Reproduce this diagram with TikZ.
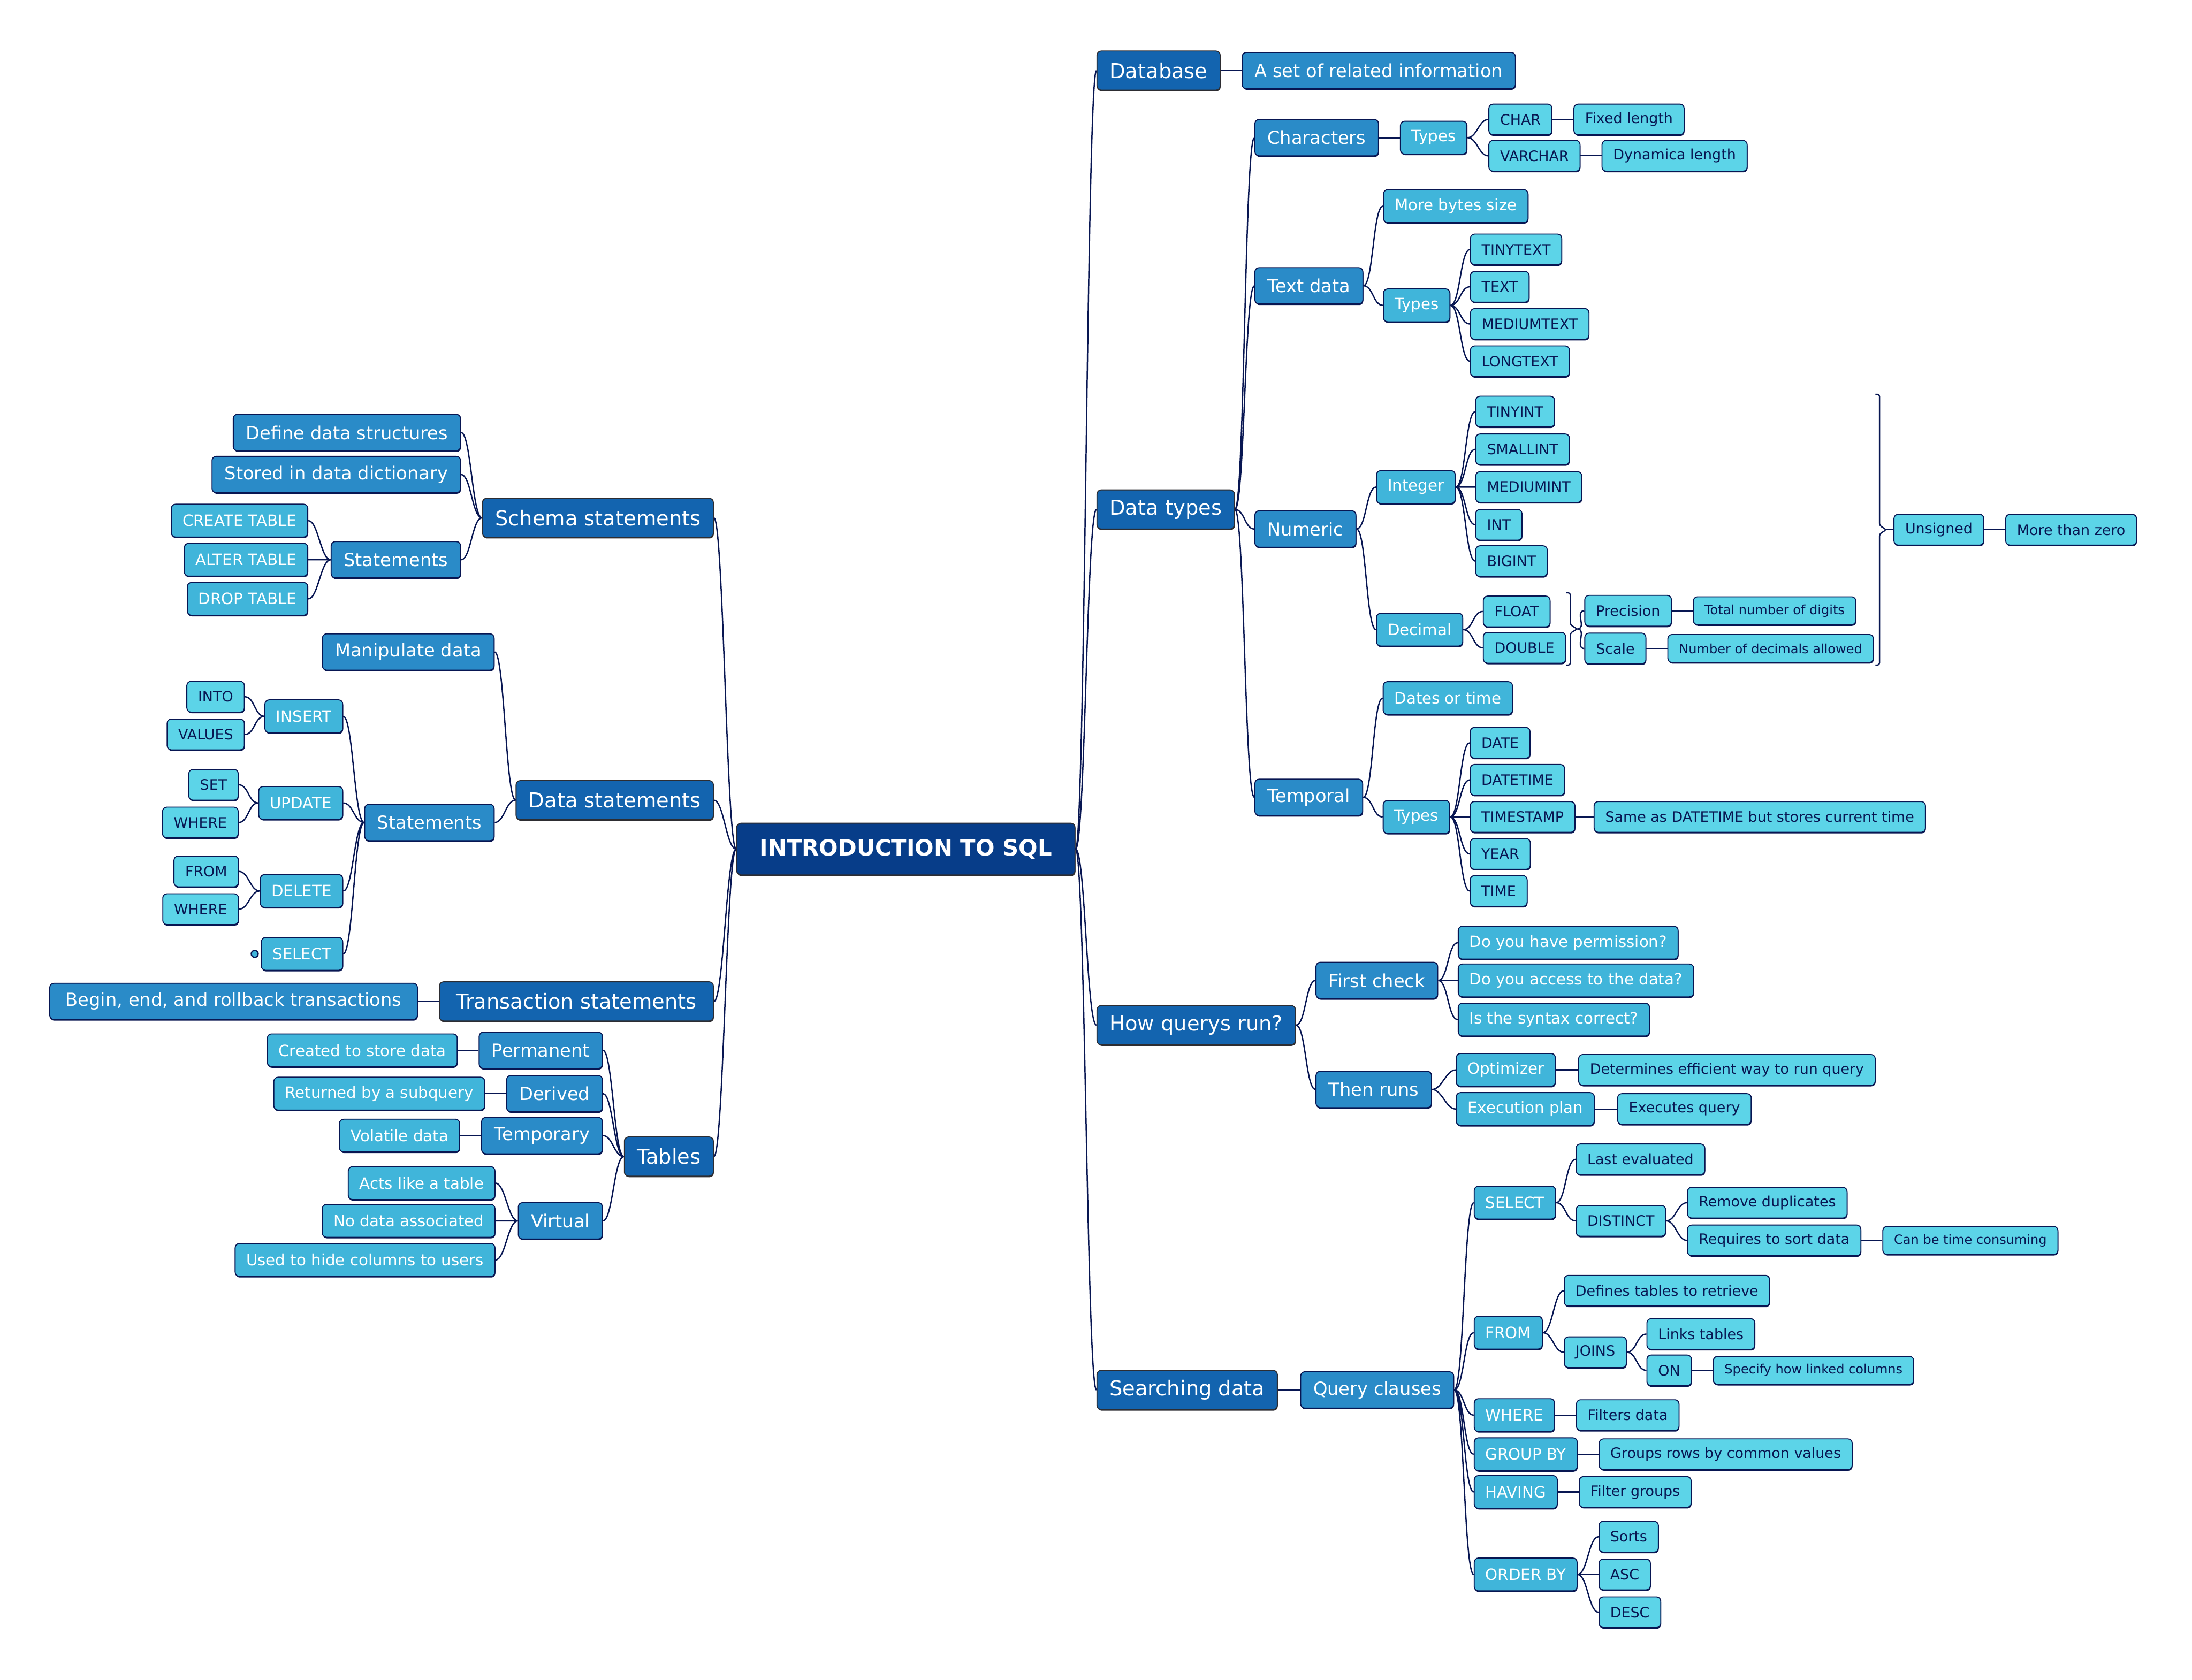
\documentclass[tikz,border=0pt]{standalone}
\usepackage{fontspec}
\setmainfont{DejaVu Sans}
\usetikzlibrary{positioning,calc,shadows}
\definecolor{sqlroot}{RGB}{7,61,137}
\definecolor{sqltopic}{RGB}{19,100,175}
\definecolor{sqlsub}{RGB}{42,139,200}
\definecolor{sqlitem}{RGB}{64,181,218}
\definecolor{sqlleaf}{RGB}{92,212,232}
\definecolor{sqlnavy}{RGB}{8,22,82}
\definecolor{sqledge}{RGB}{45,45,50}
\tikzset{
  boxbase/.style={line width=0.7pt, rounded corners=3pt,
    drop shadow={shadow xshift=0.3pt, shadow yshift=-0.8pt, fill=#1, opacity=1}},
  rootbox/.style={boxbase=sqledge, draw=sqledge, fill=sqlroot, text=white,
    font=\bfseries\fontsize{16}{19}\selectfont, minimum height=37pt, minimum width=242pt, inner xsep=9pt},
  topicbox/.style={boxbase=sqledge, draw=sqledge, fill=sqltopic, text=white,
    font=\fontsize{14.7}{17}\selectfont, minimum height=28pt, inner xsep=9pt},
  subbox/.style={boxbase=sqlnavy, draw=sqlnavy, fill=sqlsub, text=white,
    font=\fontsize{12.9}{15}\selectfont, minimum height=26pt, inner xsep=9pt},
  itembox/.style={boxbase=sqlnavy, draw=sqlnavy, fill=sqlitem, text=white,
    font=\fontsize{11.2}{13}\selectfont, minimum height=23.5pt, inner xsep=8pt},
  leafbox/.style={boxbase=sqlnavy, draw=sqlnavy, fill=sqlleaf, text=sqlnavy,
    font=\fontsize{10.3}{12}\selectfont, minimum height=22pt, inner xsep=8pt},
  notebox/.style={leafbox, font=\fontsize{9.2}{11}\selectfont, minimum height=20pt},
  branch/.style={draw=sqlnavy, line width=0.95pt},
  fanR/.style={branch, to path={.. controls +(7pt,0) and +(-7pt,0) .. (\tikztotarget)}},
  fanL/.style={branch, to path={.. controls +(-7pt,0) and +(7pt,0) .. (\tikztotarget)}},
  brk/.style={draw=sqlnavy, line width=0.9pt, rounded corners=1.5pt},
  dotmark/.style={circle, draw=sqlnavy, line width=0.9pt, fill=sqlitem, minimum size=5pt, inner sep=0pt}
}

\begin{document}
\begin{tikzpicture}[node distance=15pt]
\useasboundingbox (-648pt,607.5pt) rectangle (920pt,-594.5pt);
\node[rootbox] (sql) {INTRODUCTION TO SQL};

% right side
\node[topicbox, right=of sql, yshift=557pt] (db) {Database};
\node[topicbox, right=of sql, yshift=243pt] (dtypes) {Data types};
\node[topicbox, right=of sql, yshift=-126pt] (howrun) {How querys run?};
\node[topicbox, right=of sql, yshift=-387pt] (search) {Searching data};

\node[subbox, right=of db] (dbInfo) {A set of related information};

% data types
\node[subbox, right=14pt of dtypes, yshift=266pt] (chars) {Characters};
\node[subbox, right=14pt of dtypes, yshift=160pt] (textdata) {Text data};
\node[subbox, right=14pt of dtypes, yshift=-14pt] (numeric) {Numeric};
\node[subbox, right=14pt of dtypes, yshift=-206pt] (temporal) {Temporal};

\node[itembox, right=of chars] (charTypes) {Types};
\node[leafbox, right=of charTypes, yshift=13pt] (charC) {CHAR};
\node[leafbox, right=of charTypes, yshift=-13pt] (charV) {VARCHAR};
\node[leafbox, right=of charC] (charCfix) {Fixed length};
\node[leafbox, right=of charV] (charVdyn) {Dynamica length};

\node[itembox, right=14pt of textdata, yshift=57pt] (textMore) {More bytes size};
\node[itembox, right=14pt of textdata, yshift=-14pt] (textTypes) {Types};
\node[leafbox, right=14pt of textTypes, yshift=40pt] (tTiny) {TINYTEXT};
\node[leafbox, right=14pt of textTypes, yshift=13.3pt] (tText) {TEXT};
\node[leafbox, right=14pt of textTypes, yshift=-13.3pt] (tMed) {MEDIUMTEXT};
\node[leafbox, right=14pt of textTypes, yshift=-40pt] (tLong) {LONGTEXT};

\node[itembox, right=14pt of numeric, yshift=30pt] (integer) {Integer};
\node[itembox, right=14pt of numeric, yshift=-72pt] (decimal) {Decimal};
\node[leafbox, right=14pt of integer, yshift=54pt] (iTiny) {TINYINT};
\node[leafbox, right=14pt of integer, yshift=27pt] (iSmall) {SMALLINT};
\node[leafbox, right=14pt of integer] (iMed) {MEDIUMINT};
\node[leafbox, right=14pt of integer, yshift=-27pt] (iInt) {INT};
\node[leafbox, right=14pt of integer, yshift=-53pt] (iBig) {BIGINT};
\node[leafbox, right=14pt of decimal, yshift=13pt] (dFloat) {FLOAT};
\node[leafbox, right=14pt of decimal, yshift=-13pt] (dDouble) {DOUBLE};

% summary brackets
\coordinate (smTop) at ($(dFloat.north -| dDouble.east)+(3pt,2pt)$);
\coordinate (smBot) at ($(dDouble.south -| dDouble.east)+(3pt,-1pt)$);
\coordinate (smMid) at ($(smTop)!0.5!(smBot)$);
\coordinate (smTip) at ($(smMid)+(5pt,0)$);
\node[leafbox, right=5pt of smTip, yshift=13pt] (precision) {Precision};
\node[leafbox, right=5pt of smTip, yshift=-14pt] (scale) {Scale};
\node[notebox, right=of precision] (precDesc) {Total number of digits};
\node[notebox, right=of scale] (scaleDesc) {Number of decimals allowed};

\coordinate (bgTop) at ($(iTiny.north -| scaleDesc.east)+(4pt,1pt)$);
\coordinate (bgBot) at ($(dDouble.south -| scaleDesc.east)+(4pt,-1pt)$);
\coordinate (bgMid) at ($(bgTop)!0.5!(bgBot)$);
\coordinate (bgTip) at ($(bgMid)+(5pt,0)$);
\node[leafbox, right=5pt of bgTip] (unsigned) {Unsigned};
\node[leafbox, right=of unsigned] (unsignedDesc) {More than zero};

\node[itembox, right=14pt of temporal, yshift=71pt] (tmpDates) {Dates or time};
\node[itembox, right=14pt of temporal, yshift=-14pt] (tmpTypes) {Types};
\node[leafbox, right=14pt of tmpTypes, yshift=53pt] (tDate) {DATE};
\node[leafbox, right=14pt of tmpTypes, yshift=26.5pt] (tDatetime) {DATETIME};
\node[leafbox, right=14pt of tmpTypes] (tStamp) {TIMESTAMP};
\node[leafbox, right=14pt of tmpTypes, yshift=-26.5pt] (tYear) {YEAR};
\node[leafbox, right=14pt of tmpTypes, yshift=-53pt] (tTime) {TIME};
\node[leafbox, right=13pt of tStamp] (tStampDesc) {Same as DATETIME but stores current time};

% how querys run
\node[subbox, right=14pt of howrun, yshift=32pt] (firstcheck) {First check};
\node[subbox, right=14pt of howrun, yshift=-46pt] (thenruns) {Then runs};
\node[itembox, right=14pt of firstcheck, yshift=27pt] (chkPerm) {Do you have permission?};
\node[itembox, right=14pt of firstcheck] (chkAccess) {Do you access to the data?};
\node[itembox, right=14pt of firstcheck, yshift=-28pt] (chkSyntax) {Is the syntax correct?};
\node[itembox, right=17pt of thenruns, yshift=14pt] (optimizer) {Optimizer};
\node[itembox, right=17pt of thenruns, yshift=-14pt] (execplan) {Execution plan};
\node[leafbox, right=16pt of optimizer] (optDesc) {Determines efficient way to run query};
\node[leafbox, right=16pt of execplan] (execDesc) {Executes query};

% searching data
\node[subbox, right=16pt of search] (clauses) {Query clauses};
\node[itembox, right=14pt of clauses, yshift=134pt] (cSelect) {SELECT};
\node[itembox, right=14pt of clauses, yshift=41pt] (cFrom) {FROM};
\node[itembox, right=14pt of clauses, yshift=-18pt] (cWhere) {WHERE};
\node[itembox, right=14pt of clauses, yshift=-46pt] (cGroup) {GROUP BY};
\node[itembox, right=14pt of clauses, yshift=-73pt] (cHaving) {HAVING};
\node[itembox, right=14pt of clauses, yshift=-132pt] (cOrder) {ORDER BY};

\node[leafbox, right=14pt of cSelect, yshift=31pt] (selLast) {Last evaluated};
\node[leafbox, right=14pt of cSelect, yshift=-13pt] (selDistinct) {DISTINCT};
\node[leafbox, right=of selDistinct, yshift=13pt] (distRemove) {Remove duplicates};
\node[leafbox, right=of selDistinct, yshift=-14pt] (distSort) {Requires to sort data};
\node[notebox, right=of distSort] (distSortDesc) {Can be time consuming};

\node[leafbox, right=of cFrom, yshift=30pt] (fromDefines) {Defines tables to retrieve};
\node[leafbox, right=of cFrom, yshift=-14pt] (fromJoins) {JOINS};
\node[leafbox, right=14pt of fromJoins, yshift=13pt] (joinLinks) {Links tables};
\node[leafbox, right=14pt of fromJoins, yshift=-13pt] (joinOn) {ON};
\node[notebox, right=of joinOn] (joinOnDesc) {Specify how linked columns};

\node[leafbox, right=of cWhere] (whereDesc) {Filters data};
\node[leafbox, right=of cGroup] (groupDesc) {Groups rows by common values};
\node[leafbox, right=of cHaving] (havingDesc) {Filter groups};
\node[leafbox, right=of cOrder, yshift=27pt] (orderSorts) {Sorts};
\node[leafbox, right=of cOrder] (orderAsc) {ASC};
\node[leafbox, right=of cOrder, yshift=-27pt] (orderDesc) {DESC};

% left side
\node[topicbox, left=16pt of sql, yshift=237pt] (schema) {Schema statements};
\node[topicbox, left=16pt of sql, yshift=35pt] (datastmt) {Data statements};
\node[topicbox, left=16pt of sql, yshift=-109pt, minimum width=196pt] (trans) {Transaction statements};
\node[topicbox, left=16pt of sql, yshift=-220pt] (tables) {Tables};

\node[subbox, left=of schema, yshift=61pt] (schDefine) {Define data structures};
\node[subbox, left=of schema, yshift=31pt] (schStored) {Stored in data dictionary};
\node[subbox, left=of schema, yshift=-30pt] (schStmts) {Statements};
\node[itembox, left=16pt of schStmts, yshift=28pt] (sCreate) {CREATE TABLE};
\node[itembox, left=16pt of schStmts] (sAlter) {ALTER TABLE};
\node[itembox, left=16pt of schStmts, yshift=-28pt] (sDrop) {DROP TABLE};

\node[subbox, left=of datastmt, yshift=106pt] (dataManip) {Manipulate data};
\node[subbox, left=of datastmt, yshift=-16pt] (dataStmts) {Statements};
\node[itembox, left=of dataStmts, yshift=76pt] (dInsert) {INSERT};
\node[itembox, left=of dataStmts, yshift=14pt] (dUpdate) {UPDATE};
\node[itembox, left=of dataStmts, yshift=-49pt] (dDelete) {DELETE};
\node[itembox, left=of dataStmts, yshift=-94pt] (dSelect) {SELECT};
\node[leafbox, left=14pt of dInsert, yshift=14pt] (insInto) {INTO};
\node[leafbox, left=14pt of dInsert, yshift=-13pt] (insValues) {VALUES};
\node[leafbox, left=14pt of dUpdate, yshift=13pt] (updSet) {SET};
\node[leafbox, left=14pt of dUpdate, yshift=-14pt] (updWhere) {WHERE};
\node[leafbox, left=of dDelete, yshift=14pt] (delFrom) {FROM};
\node[leafbox, left=of dDelete, yshift=-13pt] (delWhere) {WHERE};
\node[dotmark, left=1.5pt of dSelect] (selDot) {};

\node[subbox, left=of trans, minimum width=263pt] (transDesc) {Begin, end, and rollback transactions};

\node[subbox, left=of tables, yshift=76pt] (tPerm) {Permanent};
\node[subbox, left=of tables, yshift=45pt] (tDerived) {Derived};
\node[subbox, left=of tables, yshift=15pt] (tTemp) {Temporary};
\node[subbox, left=of tables, yshift=-46pt] (tVirtual) {Virtual};
\node[itembox, left=of tPerm] (permDesc) {Created to store data};
\node[itembox, left=of tDerived] (derivedDesc) {Returned by a subquery};
\node[itembox, left=of tTemp] (tempDesc) {Volatile data};
\node[itembox, left=16pt of tVirtual, yshift=27pt] (virtActs) {Acts like a table};
\node[itembox, left=16pt of tVirtual] (virtNone) {No data associated};
\node[itembox, left=16pt of tVirtual, yshift=-28pt] (virtHide) {Used to hide columns to users};

% connectors, right
\draw[fanR] (sql.east) to (db.west) (sql.east) to (dtypes.west)
  (sql.east) to (howrun.west) (sql.east) to (search.west);
\draw[fanR] (db.east) to (dbInfo.west);
\draw[fanR] (dtypes.east) to (chars.west) (dtypes.east) to (textdata.west)
  (dtypes.east) to (numeric.west) (dtypes.east) to (temporal.west);
\draw[fanR] (chars.east) to (charTypes.west);
\draw[fanR] (charTypes.east) to (charC.west) (charTypes.east) to (charV.west);
\draw[fanR] (charC.east) to (charCfix.west) (charV.east) to (charVdyn.west);
\draw[fanR] (textdata.east) to (textMore.west) (textdata.east) to (textTypes.west);
\draw[fanR] (textTypes.east) to (tTiny.west) (textTypes.east) to (tText.west)
  (textTypes.east) to (tMed.west) (textTypes.east) to (tLong.west);
\draw[fanR] (numeric.east) to (integer.west) (numeric.east) to (decimal.west);
\draw[fanR] (integer.east) to (iTiny.west) (integer.east) to (iSmall.west)
  (integer.east) to (iMed.west) (integer.east) to (iInt.west) (integer.east) to (iBig.west);
\draw[fanR] (decimal.east) to (dFloat.west) (decimal.east) to (dDouble.west);
\draw[brk] ($(smTop)+(-3pt,0)$) -- (smTop) -- ($(smMid)+(0,3pt)$) -- (smTip)
  -- ($(smMid)+(0,-3pt)$) -- (smBot) -- ($(smBot)+(-3pt,0)$);
\draw[fanR] (smTip) to (precision.west) (smTip) to (scale.west);
\draw[fanR] (precision.east) to (precDesc.west) (scale.east) to (scaleDesc.west);
\draw[brk] ($(bgTop)+(-3pt,0)$) -- (bgTop) -- ($(bgMid)+(0,3pt)$) -- (bgTip)
  -- ($(bgMid)+(0,-3pt)$) -- (bgBot) -- ($(bgBot)+(-3pt,0)$);
\draw[fanR] (bgTip) to (unsigned.west);
\draw[fanR] (unsigned.east) to (unsignedDesc.west);
\draw[fanR] (temporal.east) to (tmpDates.west) (temporal.east) to (tmpTypes.west);
\draw[fanR] (tmpTypes.east) to (tDate.west) (tmpTypes.east) to (tDatetime.west)
  (tmpTypes.east) to (tStamp.west) (tmpTypes.east) to (tYear.west) (tmpTypes.east) to (tTime.west);
\draw[fanR] (tStamp.east) to (tStampDesc.west);
\draw[fanR] (howrun.east) to (firstcheck.west) (howrun.east) to (thenruns.west);
\draw[fanR] (firstcheck.east) to (chkPerm.west) (firstcheck.east) to (chkAccess.west)
  (firstcheck.east) to (chkSyntax.west);
\draw[fanR] (thenruns.east) to (optimizer.west) (thenruns.east) to (execplan.west);
\draw[fanR] (optimizer.east) to (optDesc.west) (execplan.east) to (execDesc.west);
\draw[fanR] (search.east) to (clauses.west);
\draw[fanR] (clauses.east) to (cSelect.west) (clauses.east) to (cFrom.west)
  (clauses.east) to (cWhere.west) (clauses.east) to (cGroup.west)
  (clauses.east) to (cHaving.west) (clauses.east) to (cOrder.west);
\draw[fanR] (cSelect.east) to (selLast.west) (cSelect.east) to (selDistinct.west);
\draw[fanR] (selDistinct.east) to (distRemove.west) (selDistinct.east) to (distSort.west);
\draw[fanR] (distSort.east) to (distSortDesc.west);
\draw[fanR] (cFrom.east) to (fromDefines.west) (cFrom.east) to (fromJoins.west);
\draw[fanR] (fromJoins.east) to (joinLinks.west) (fromJoins.east) to (joinOn.west);
\draw[fanR] (joinOn.east) to (joinOnDesc.west);
\draw[fanR] (cWhere.east) to (whereDesc.west) (cGroup.east) to (groupDesc.west)
  (cHaving.east) to (havingDesc.west);
\draw[fanR] (cOrder.east) to (orderSorts.west) (cOrder.east) to (orderAsc.west)
  (cOrder.east) to (orderDesc.west);

% connectors, left
\draw[fanL] (sql.west) to (schema.east) (sql.west) to (datastmt.east)
  (sql.west) to (trans.east) (sql.west) to (tables.east);
\draw[fanL] (schema.west) to (schDefine.east) (schema.west) to (schStored.east)
  (schema.west) to (schStmts.east);
\draw[fanL] (schStmts.west) to (sCreate.east) (schStmts.west) to (sAlter.east)
  (schStmts.west) to (sDrop.east);
\draw[fanL] (datastmt.west) to (dataManip.east) (datastmt.west) to (dataStmts.east);
\draw[fanL] (dataStmts.west) to (dInsert.east) (dataStmts.west) to (dUpdate.east)
  (dataStmts.west) to (dDelete.east) (dataStmts.west) to (dSelect.east);
\draw[fanL] (dInsert.west) to (insInto.east) (dInsert.west) to (insValues.east);
\draw[fanL] (dUpdate.west) to (updSet.east) (dUpdate.west) to (updWhere.east);
\draw[fanL] (dDelete.west) to (delFrom.east) (dDelete.west) to (delWhere.east);
\draw[fanL] (trans.west) to (transDesc.east);
\draw[fanL] (tables.west) to (tPerm.east) (tables.west) to (tDerived.east)
  (tables.west) to (tTemp.east) (tables.west) to (tVirtual.east);
\draw[fanL] (tPerm.west) to (permDesc.east) (tDerived.west) to (derivedDesc.east)
  (tTemp.west) to (tempDesc.east);
\draw[fanL] (tVirtual.west) to (virtActs.east) (tVirtual.west) to (virtNone.east)
  (tVirtual.west) to (virtHide.east);
\end{tikzpicture}
\end{document}
